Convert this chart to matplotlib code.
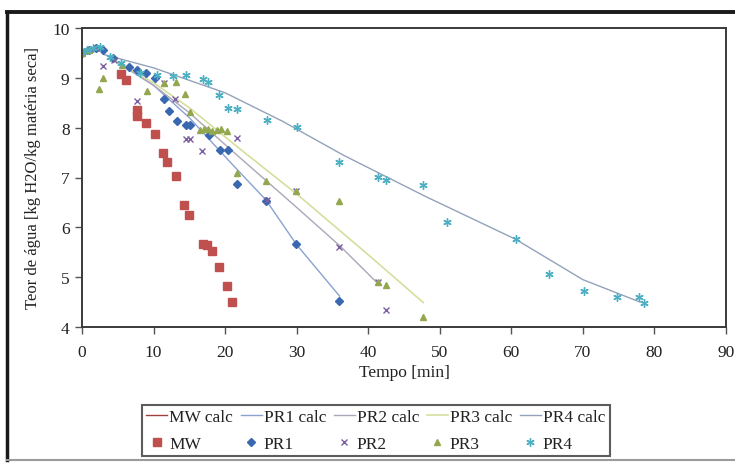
import matplotlib
matplotlib.use("Agg")
import matplotlib.pyplot as plt
from matplotlib.lines import Line2D

# ---------------- data ----------------
MW_t = [5.4, 6.1, 7.7, 7.7, 8.9, 10.2, 11.3, 11.9, 13.1, 14.2, 15.0, 16.9, 17.4, 18.1, 19.1, 20.2, 20.9]
MW_y = [9.08, 8.96, 8.35, 8.23, 8.09, 7.87, 7.49, 7.31, 7.04, 6.44, 6.24, 5.66, 5.64, 5.52, 5.2, 4.82, 4.5]

PR1_t = [0, 1, 2, 3, 4.3, 6.5, 7.7, 9.0, 10.2, 11.4, 12.2, 13.3, 14.6, 15.1, 17.8, 19.3, 20.4, 21.7, 25.7, 29.9, 35.9]
PR1_y = [9.5, 9.55, 9.6, 9.55, 9.4, 9.22, 9.15, 9.1, 9.0, 8.58, 8.33, 8.13, 8.05, 8.05, 7.85, 7.55, 7.55, 6.87, 6.52, 5.66, 4.53]

PR2_t = [0, 1, 2, 2.9, 4.5, 7.7, 11.5, 13.0, 14.6, 15.1, 16.8, 21.7, 25.8, 29.9, 35.9, 41.3, 42.5]
PR2_y = [9.5, 9.55, 9.6, 9.23, 9.35, 8.53, 8.9, 8.57, 7.78, 7.78, 7.53, 7.8, 6.55, 6.73, 5.6, 4.9, 4.35]

PR3_t = [0, 1, 2.4, 2.9, 5.6, 9.1, 11.5, 13.1, 14.4, 15.1, 16.5, 17.0, 17.6, 18.2, 18.8, 19.4, 20.3, 21.7, 25.7, 29.9, 35.9, 41.3, 42.5, 47.6]
PR3_y = [9.5, 9.55, 8.77, 9.0, 9.25, 8.74, 8.9, 8.92, 8.68, 8.32, 7.95, 7.98, 7.97, 7.93, 7.96, 7.98, 7.93, 7.1, 6.93, 6.73, 6.53, 4.9, 4.84, 4.2]

PR4_t = [0, 0.7, 1.5, 2.5, 3.9, 5.5, 8.1, 10.5, 12.7, 14.5, 16.9, 17.6, 19.2, 20.4, 21.6, 25.8, 30.0, 35.9, 41.3, 42.5, 47.6, 51.0, 60.6, 65.3, 70.1, 74.8, 77.8, 78.5]
PR4_y = [9.52, 9.55, 9.6, 9.62, 9.42, 9.3, 9.1, 9.06, 9.04, 9.06, 8.98, 8.92, 8.66, 8.4, 8.37, 8.15, 8.02, 7.31, 7.02, 6.95, 6.85, 6.1, 5.76, 5.06, 4.72, 4.61, 4.61, 4.49]

MW_calc_t = []
MW_calc_y = []
PR1_calc_t = [4, 10, 15, 20.7, 25.7, 30, 36]
PR1_calc_y = [9.4, 8.85, 8.2, 7.31, 6.55, 5.65, 4.62]
PR2_calc_t = [4, 10, 15, 20.7, 30, 36.1, 41.5]
PR2_calc_y = [9.4, 8.85, 8.3, 7.57, 6.4, 5.62, 4.85]
PR3_calc_t = [4, 10, 15, 22.1, 30, 40, 47.7]
PR3_calc_y = [9.4, 8.9, 8.4, 7.57, 6.67, 5.45, 4.49]
PR4_calc_t = [3, 10, 20, 28, 36.5, 48, 60.6, 70, 78]
PR4_calc_y = [9.47, 9.2, 8.7, 8.13, 7.45, 6.62, 5.76, 4.95, 4.5]

x_ticks = [0, 10, 20, 30, 40, 50, 60, 70, 80, 90]
y_ticks = [4, 5, 6, 7, 8, 9, 10]
x_label = "Tempo [min]"
y_label = "Teor de água [kg H2O/kg matéria seca]"

# ---------------- styling ----------------
plt.rcParams['font.family'] = ['Liberation Serif', 'DejaVu Serif']

W, H = 735, 464
fig = plt.figure(figsize=(W / 100, H / 100), dpi=100)
fig.patch.set_facecolor('white')

ax = fig.add_axes([82 / W, 1 - 328 / H, (726 - 82) / W, (328 - 29) / H])

c_mw = '#C0504D'
c_pr1 = '#3A68B0'
c_pr2 = '#7A5FA0'
c_pr3 = '#93A84E'
c_pr4 = '#4DB0C2'

lc_mw = '#A0403D'
lc_pr1 = '#8AA2CF'
lc_pr2 = '#ABA7BA'
lc_pr3 = '#D6DE9E'
lc_pr4 = '#93A2BA'

l_mw, = ax.plot(MW_calc_t, MW_calc_y, color=lc_mw, lw=1.0)
l1, = ax.plot(PR1_calc_t, PR1_calc_y, color=lc_pr1, lw=1.0)
l2, = ax.plot(PR2_calc_t, PR2_calc_y, color=lc_pr2, lw=1.0)
l3, = ax.plot(PR3_calc_t, PR3_calc_y, color=lc_pr3, lw=1.2)
l4, = ax.plot(PR4_calc_t, PR4_calc_y, color=lc_pr4, lw=1.0)

s_mw, = ax.plot(MW_t, MW_y, ls='none', marker='s', ms=5.2, color=c_mw, mec=c_mw)
s1, = ax.plot(PR1_t, PR1_y, ls='none', marker='D', ms=3.8, color=c_pr1, mec=c_pr1)
s2, = ax.plot(PR2_t, PR2_y, ls='none', marker='x', ms=5.0, mew=1.0, color=c_pr2)
s3, = ax.plot(PR3_t, PR3_y, ls='none', marker='^', ms=5.0, color=c_pr3, mec=c_pr3)
s4, = ax.plot(PR4_t, PR4_y, ls='none', marker=(6, 2, 0), ms=6.0, mew=1.0, color=c_pr4)

ax.set_xlim(0, 90)
ax.set_ylim(4, 10)
ax.set_xticks(x_ticks)
ax.set_yticks(y_ticks)
ax.tick_params(axis='both', direction='out', length=5, width=1.0, color='#555555',
               labelsize=12.5, labelcolor='#222222')
ax.tick_params(axis='x', pad=7)
ax.tick_params(axis='y', pad=4)
for sp in ax.spines.values():
    sp.set_color('#3a3a3a')
    sp.set_linewidth(1.4)

ax.set_xlabel(x_label, fontsize=12.5, color='#222222')
ax.xaxis.set_label_coords(0.5, -0.125)
ax.set_ylabel(y_label, fontsize=12, color='#222222')
ax.yaxis.set_label_coords(-0.063, 0.5)

handles = [l_mw, s_mw, l1, s1, l2, s2, l3, s3, l4, s4]
labels = ['MW calc', 'MW', 'PR1 calc', 'PR1', 'PR2 calc', 'PR2', 'PR3 calc', 'PR3', 'PR4 calc', 'PR4']
leg = fig.legend(handles, labels, ncol=5, loc='upper left',
                 bbox_to_anchor=(142 / W, 1 - 406 / H),
                 fontsize=12.5, frameon=True, fancybox=False,
                 handlelength=1.2, handletextpad=0.12, columnspacing=0.45,
                 borderpad=0.25, labelspacing=0.6, borderaxespad=0.0)
leg.get_frame().set_edgecolor('#333333')
leg.get_frame().set_linewidth(1.5)
for t in leg.get_texts():
    t.set_color('#222222')

# outer chart border (top and left dark, bottom light)
fig.add_artist(Line2D([7 / W, 1.0], [1 - 13 / H, 1 - 13 / H], transform=fig.transFigure,
                      color='#1a1a1a', lw=2.8))
fig.add_artist(Line2D([7 / W, 7 / W], [1 - 13 / H, 1 - 461 / H], transform=fig.transFigure,
                      color='#1a1a1a', lw=2.5))
fig.add_artist(Line2D([7 / W, 1.0], [1 - 461 / H, 1 - 461 / H], transform=fig.transFigure,
                      color='#9a9a9a', lw=1.5))

fig.savefig('out.png', dpi=100)
